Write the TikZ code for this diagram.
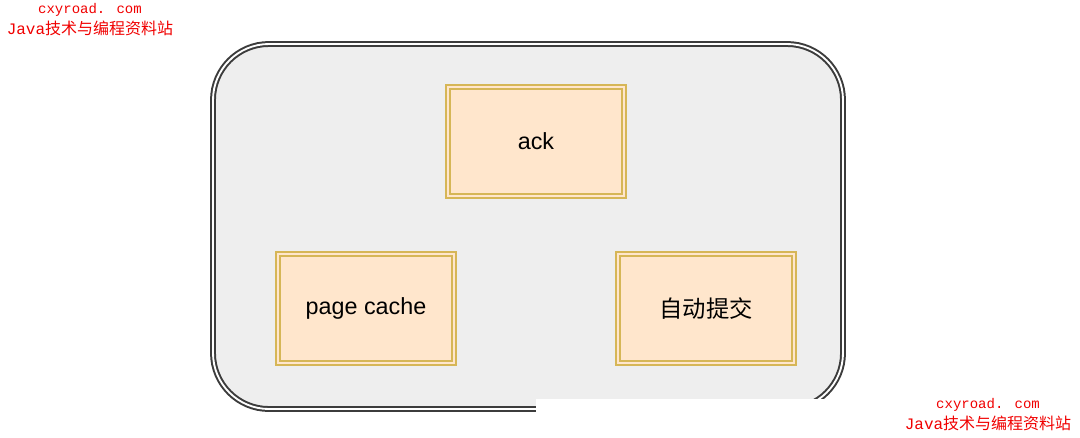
\documentclass[tikz,border=0pt]{standalone}
\usepackage{fontspec}
\setmainfont{Liberation Sans}
\newfontfamily\cjk{Noto Sans CJK SC}
\newfontfamily\wmfont{Liberation Mono}
\usepackage{tikz}

\definecolor{boxline}{HTML}{D6B656}
\definecolor{boxfill}{HTML}{FFE6CC}
\definecolor{panelline}{HTML}{3C3C3C}
\definecolor{panelfill}{HTML}{EEEEEE}
\definecolor{wmred}{HTML}{F00000}

\tikzset{
  panel/.style={draw=panelline, line width=1.5pt, double=white, double distance=1.4pt,
    fill=panelfill, rounded corners=42pt},
  itembox/.style={rectangle, draw=boxline, line width=1.3pt, double=boxfill, double distance=1.5pt,
    fill=boxfill, minimum width=132pt, minimum height=81.75pt, inner sep=0pt, font=\fontsize{17.5}{19}\selectfont},
  wm/.style={text=wmred, inner sep=0pt, font=\wmfont\fontsize{12}{13}\selectfont}
}

\begin{document}
\begin{tikzpicture}[x=0.75pt, y=-0.75pt]
\useasboundingbox (0,0) rectangle (1080,437);
% outer panel
\draw[panel] (213,44) rectangle (843,409);
% white patch over the bottom edge
\fill[white] (536,399) rectangle (835,437);
% the three boxes
\node[itembox] (ack) at (536,141.5) {ack};
\node[itembox] (cache) at (366,308.5) {page cache};
\node[itembox] (commit) at (706,308.5) {\cjk 自动提交};
% watermarks
\node[wm, font=\wmfont\fontsize{10.5}{12}\selectfont] (wma) at (90,10) {cxyroad. com};
\node[wm] (wmb) at (90,28) {Java{\cjk 技术与编程资料站}};
\node[wm, font=\wmfont\fontsize{10.5}{12}\selectfont] (wmc) at (988,405) {cxyroad. com};
\node[wm] (wmd) at (988,423) {Java{\cjk 技术与编程资料站}};
\end{tikzpicture}
\end{document}
